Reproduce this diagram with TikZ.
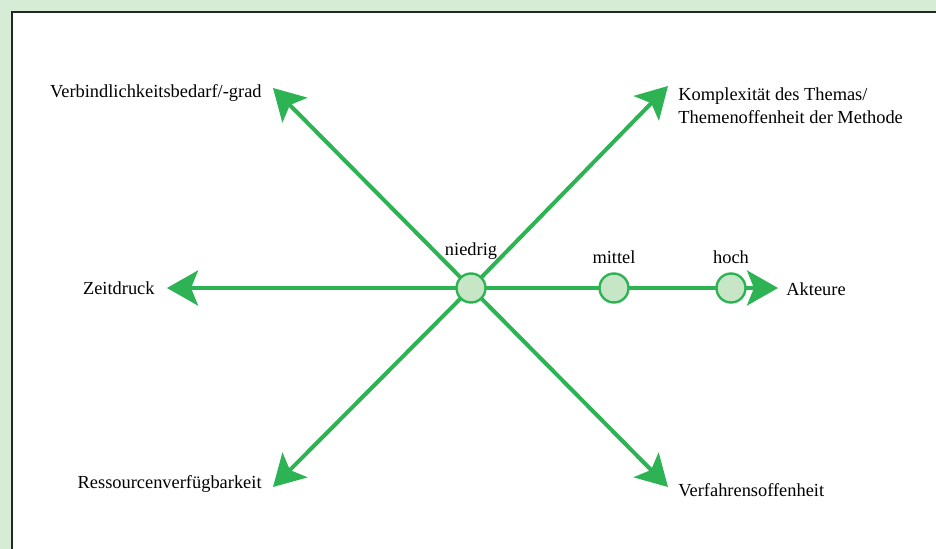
\documentclass[tikz,border=0pt]{standalone}
\usepackage{fontspec}
\setmainfont{Liberation Serif}
\usetikzlibrary{arrows.meta}
\definecolor{axgreen}{HTML}{2DB354}
\definecolor{dotfill}{HTML}{C6E6C6}
\definecolor{bgpanel}{HTML}{D6ECD6}
\tikzset{
  axis/.style={draw=axgreen,line width=2pt,-{Stealth[length=15.5pt,width=17.5pt,inset=3.5pt]}},
  level/.style={circle,draw=axgreen,fill=dotfill,line width=1.2pt,minimum size=14.5pt,inner sep=0pt},
  lbl/.style={font=\fontsize{9.2}{11.5}\selectfont,inner sep=0pt}
}
\begin{document}
\begin{tikzpicture}[x=0.5pt,y=-0.5pt]
  \useasboundingbox (0,0) rectangle (936,549);
  \fill[bgpanel] (0,0) rectangle (936,549);
  \filldraw[fill=white,draw=black!85,line width=1.2pt] (12,12) rectangle (950,560);
  % axes
  \coordinate (o) at (471,288);
  \coordinate (tipNW) at (273,88);
  \coordinate (tipNE) at (668,86);
  \coordinate (tipW) at (167,288);
  \coordinate (tipE) at (778,288);
  \coordinate (tipSW) at (273,487);
  \coordinate (tipSE) at (668,487);
  \foreach \t in {tipNW,tipNE,tipW,tipE,tipSW,tipSE}
    \draw[axis] (o) -- (\t);
  % levels
  \node[level] (low) at (o) {};
  \node[level] (mid) at (614,288) {};
  \node[level] (high) at (731,288) {};
  \node[lbl,anchor=south] at ([yshift=6pt]low.north) {niedrig};
  \node[lbl,anchor=south] at ([yshift=4pt]mid.north) {mittel};
  \node[lbl,anchor=south] at ([yshift=4pt]high.north) {hoch};
  % labels
  \node[lbl,anchor=east] at (262,93) {Verbindlichkeitsbedarf/-grad};
  \node[lbl,anchor=west,align=left] at (678,106) {Komplexität des Themas/\\Themenoffenheit der Methode};
  \node[lbl,anchor=east] at (155,288) {Zeitdruck};
  \node[lbl,anchor=west] at (786,289) {Akteure};
  \node[lbl,anchor=east] at (262,484) {Ressourcenverfügbarkeit};
  \node[lbl,anchor=west] at (678,490) {Verfahrensoffenheit};
\end{tikzpicture}
\end{document}
